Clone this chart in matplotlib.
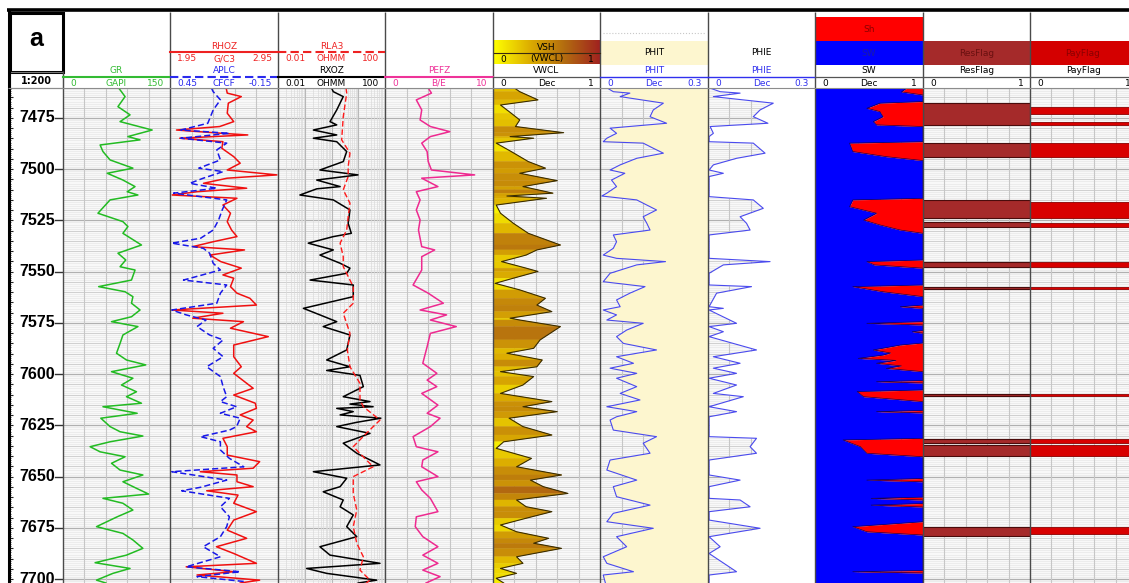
import numpy as np
import matplotlib
matplotlib.use("Agg")
import matplotlib.pyplot as plt
from matplotlib.colors import LinearSegmentedColormap
from matplotlib.collections import PolyCollection
from matplotlib.patches import Rectangle
from matplotlib.ticker import NullLocator

# ---------------- log curves (depth in ft) ----------------
gr_depth = [7460.4, 7461.3, 7464.6, 7469.5, 7473.5, 7476.8, 7480.9, 7484.1, 7485.7, 7488.2,
            7491.4, 7495.5, 7499.5, 7502.0, 7505.3, 7508.5, 7511.0, 7512.6, 7515.0, 7521.5,
            7525.6, 7528.0, 7531.3, 7537.0, 7541.0, 7544.3, 7547.6, 7549.2, 7554.1, 7557.3,
            7559.8, 7562.2, 7565.4, 7568.7, 7572.0, 7574.4, 7576.8, 7580.9, 7585.0, 7589.8,
            7593.1, 7595.5, 7598.8, 7602.0, 7605.3, 7608.6, 7611.0, 7614.2, 7615.9, 7619.1,
            7621.5, 7625.6, 7628.1, 7630.2, 7633.0, 7635.4, 7637.9, 7640.3, 7643.5, 7646.8,
            7649.2, 7652.5, 7655.7, 7658.5, 7660.6, 7663.0, 7666.3, 7669.6, 7674.4, 7677.7,
            7680.9, 7685.0, 7688.3, 7692.0, 7694.8, 7697.2, 7700.5, 7701.9]
gr = [78, 80, 87, 77, 94, 80, 125, 91, 108, 52,
      56, 66, 98, 62, 84, 101, 90, 105, 66, 49,
      84, 91, 84, 110, 77, 88, 80, 101, 96, 50,
      87, 98, 96, 108, 96, 68, 105, 84, 80, 75,
      89, 116, 68, 98, 82, 103, 89, 110, 56, 104,
      53, 66, 80, 112, 66, 38, 52, 87, 68, 80,
      112, 84, 103, 120, 56, 84, 98, 76, 47, 84,
      98, 112, 89, 45, 94, 70, 47, 60]

rhoz_depth = [7460.4, 7462.9, 7464.6, 7467.8, 7472.7, 7476.8, 7479.2, 7480.9, 7482.5, 7483.3,
              7484.9, 7486.6, 7489.8, 7493.9, 7497.1, 7500.4, 7502.8, 7504.4, 7506.9, 7509.3,
              7511.0, 7512.6, 7514.2, 7517.5, 7521.5, 7525.6, 7529.7, 7532.9, 7535.4, 7537.8,
              7539.4, 7541.9, 7545.1, 7548.3, 7551.6, 7553.2, 7557.3, 7560.5, 7563.0, 7566.3,
              7568.7, 7570.3, 7572.7, 7574.4, 7577.6, 7581.7, 7585.8, 7591.5, 7596.4, 7599.6,
              7606.9, 7610.2, 7614.2, 7616.7, 7619.9, 7622.4, 7625.6, 7628.1, 7631.3, 7635.4,
              7639.5, 7642.7, 7645.9, 7647.6, 7649.2, 7652.5, 7654.9, 7656.9, 7659.0, 7663.0,
              7667.1, 7671.2, 7676.1, 7680.1, 7684.2, 7687.5, 7692.3, 7694.0, 7696.4, 7698.0,
              7700.5, 7701.9]
rhoz = [2.47, 2.48, 2.61, 2.49, 2.48, 2.54, 2.41, 2.01, 2.43, 2.67,
        2.04, 2.44, 2.43, 2.54, 2.60, 2.48, 2.94, 2.48, 2.26, 2.66,
        2.20, 1.97, 2.57, 2.44, 2.51, 2.48, 2.52, 2.57, 2.35, 2.16,
        2.64, 2.32, 2.42, 2.61, 2.44, 2.54, 2.51, 2.57, 2.69, 2.75,
        1.97, 2.44, 2.16, 2.63, 2.51, 2.86, 2.54, 2.54, 2.61, 2.54,
        2.72, 2.54, 2.74, 2.75, 2.60, 2.72, 2.66, 2.75, 2.44, 2.48,
        2.48, 2.78, 2.72, 2.23, 2.57, 2.57, 2.72, 2.29, 2.58, 2.54,
        2.75, 2.54, 2.48, 2.66, 2.38, 2.54, 2.75, 2.10, 2.54, 2.20,
        2.78, 2.60]

aplc_depth = [7460.4, 7462.2, 7466.2, 7471.1, 7477.6, 7480.9, 7482.5, 7484.9, 7487.3, 7490.6,
              7495.5, 7499.5, 7501.2, 7504.4, 7506.9, 7509.3, 7511.7, 7513.4, 7515.0, 7519.9,
              7524.8, 7529.7, 7533.7, 7536.1, 7538.6, 7541.0, 7545.9, 7549.2, 7554.1, 7556.5,
              7560.5, 7565.4, 7568.7, 7571.1, 7573.6, 7576.8, 7580.9, 7583.3, 7587.4, 7591.5,
              7596.4, 7601.2, 7606.1, 7611.0, 7613.4, 7615.9, 7619.1, 7621.5, 7625.6, 7627.3,
              7630.5, 7633.0, 7637.0, 7641.1, 7645.2, 7647.6, 7651.7, 7655.2, 7656.9, 7660.6,
              7664.7, 7669.6, 7674.4, 7679.3, 7684.2, 7689.1, 7694.0, 7696.4, 7698.8, 7701.3]
aplc = [0.22, 0.21, 0.17, 0.21, 0.24, 0.39, 0.12, 0.39, 0.135, 0.19,
        0.17, 0.29, 0.155, 0.265, 0.34, 0.19, 0.43, 0.28, 0.135, 0.16,
        0.18, 0.21, 0.28, 0.44, 0.265, 0.23, 0.21, 0.17, 0.375, 0.135,
        0.17, 0.19, 0.44, 0.36, 0.25, 0.30, 0.23, 0.155, 0.21, 0.155,
        0.246, 0.17, 0.155, 0.135, 0.17, 0.08, 0.17, 0.06, 0.08, 0.12,
        0.28, 0.17, 0.17, 0.12, 0.04, 0.44, 0.135, 0.28, 0.385, 0.12,
        0.17, 0.12, 0.135, 0.17, 0.265, 0.17, 0.36, 0.06, 0.30, 0.024]

rxoz_depth = [7460.4, 7462.2, 7464.6, 7471.1, 7476.8, 7478.4, 7480.9, 7483.3, 7484.9, 7486.6,
              7491.4, 7496.3, 7500.4, 7502.8, 7505.3, 7508.5, 7509.6, 7512.6, 7515.0, 7519.9,
              7526.4, 7531.3, 7532.9, 7536.1, 7539.4, 7541.9, 7545.9, 7548.3, 7550.8, 7554.1,
              7556.5, 7562.2, 7567.9, 7571.1, 7574.4, 7576.8, 7580.9, 7588.2, 7593.1, 7596.4,
              7598.2, 7600.6, 7606.1, 7611.0, 7613.4, 7614.6, 7615.9, 7616.7, 7618.3, 7619.9,
              7621.5, 7623.5, 7625.6, 7628.9, 7633.7, 7638.6, 7644.3, 7647.6, 7650.8, 7654.9,
              7657.4, 7661.4, 7664.7, 7668.7, 7674.4, 7679.3, 7684.2, 7688.3, 7692.3, 7694.8,
              7697.2, 7700.5, 7701.9]
rxoz = [1.0, 1.17, 2.75, 1.57, 0.88, 1.57, 0.21, 1.57, 0.21, 1.57,
        3.7, 2.75, 0.37, 9.8, 0.28, 2.1, 0.28, 0.066, 1.17, 4.9,
        4.2, 5.5, 1.17, 0.135, 1.17, 0.37, 2.1, 4.9, 3.7, 0.158,
        6.5, 6.5, 0.089, 0.37, 1.57, 0.49, 4.9, 3.7, 0.66, 4.9,
        0.66, 11.6, 15.5, 2.75, 27.5, 4.9, 36, 1.57, 6.5, 2.1,
        70, 8.8, 1.57, 27.5, 2.75, 8.8, 65, 0.21, 3.7, 2.1,
        0.49, 2.75, 2.1, 6.5, 3.7, 8.8, 0.37, 0.88, 65, 0.118,
        0.66, 49, 10]

rla3_depth = [7460.4, 7462.9, 7474.4, 7485.7, 7492.2, 7498.8, 7503.6, 7510.1, 7516.6, 7523.2,
              7529.7, 7536.1, 7542.7, 7547.6, 7557.3, 7565.4, 7570.3, 7580.1, 7588.2, 7596.4,
              7604.5, 7612.6, 7615.9, 7622.4, 7628.9, 7635.4, 7645.2, 7650.0, 7658.2, 7666.3,
              7674.4, 7682.5, 7689.1, 7695.6, 7700.5, 7701.9]
rla3 = [3.5, 3.7, 2.75, 2.4, 4.9, 4.2, 4.2, 2.75, 4.9, 4.2,
        3.7, 2.1, 2.75, 2.75, 6.5, 6.5, 2.75, 4.9, 3.9, 4.9,
        11.6, 11.6, 15.5, 65, 20, 6.5, 36, 6.5, 6.5, 8.8,
        6.5, 8.8, 15.5, 11.6, 27.5, 20]

pefz_depth = [7460.4, 7462.9, 7466.2, 7471.1, 7476.0, 7479.2, 7481.7, 7484.1, 7487.3, 7491.4,
              7496.3, 7500.4, 7502.8, 7504.4, 7508.5, 7511.0, 7515.0, 7519.9, 7524.8, 7529.7,
              7537.8, 7539.4, 7542.7, 7549.2, 7556.5, 7560.5, 7565.4, 7568.7, 7571.1, 7573.6,
              7576.8, 7580.1, 7586.6, 7594.7, 7599.6, 7602.9, 7606.1, 7609.4, 7615.1, 7619.1,
              7621.5, 7625.6, 7630.5, 7635.4, 7637.9, 7641.9, 7645.2, 7650.0, 7652.5, 7656.5,
              7660.6, 7667.1, 7669.6, 7674.4, 7679.3, 7684.2, 7688.3, 7692.3, 7695.6, 7698.8,
              7701.9]
pefz = [4.0, 4.3, 2.9, 3.4, 3.25, 4.2, 6.0, 4.2, 3.4, 3.9,
        4.0, 4.3, 8.3, 3.4, 4.9, 2.9, 3.25, 2.9, 3.25, 3.1,
        3.4, 4.6, 3.4, 3.4, 2.6, 4.0, 5.4, 3.25, 5.7, 4.2,
        6.6, 4.2, 3.9, 3.5, 4.8, 3.9, 4.8, 3.4, 4.9, 3.9,
        5.1, 4.2, 2.6, 2.9, 4.9, 3.5, 3.4, 4.9, 2.9, 3.4,
        4.2, 4.9, 2.9, 2.8, 3.5, 4.9, 3.5, 4.9, 3.5, 5.1,
        3.8]

vwcl_depth = [7460.4, 7462.2, 7466.2, 7468.7, 7472.7, 7476.0, 7479.2, 7482.2, 7484.1, 7484.9,
              7487.3, 7491.4, 7496.3, 7499.5, 7502.0, 7505.6, 7508.5, 7510.1, 7511.7, 7513.1,
              7514.2, 7517.5, 7521.5, 7526.4, 7531.3, 7537.0, 7539.4, 7541.9, 7545.1, 7548.3,
              7549.9, 7553.2, 7555.7, 7558.9, 7563.0, 7566.3, 7569.5, 7572.7, 7573.6, 7576.8,
              7583.3, 7587.4, 7589.8, 7593.1, 7596.4, 7598.8, 7601.2, 7605.3, 7609.4, 7613.4,
              7615.9, 7618.3, 7621.5, 7625.6, 7629.7, 7633.0, 7636.2, 7641.1, 7645.2, 7649.2,
              7651.7, 7654.9, 7658.2, 7661.4, 7664.7, 7667.1, 7670.3, 7673.6, 7676.9, 7680.1,
              7682.5, 7685.0, 7689.1, 7692.3, 7694.8, 7697.2, 7699.6, 7701.9]
vwcl = [0.20, 0.25, 0.42, 0.07, 0.17, 0.25, 0.21, 0.66, 0.16, 0.38,
        0.03, 0.17, 0.33, 0.49, 0.25, 0.60, 0.28, 0.42, 0.56, 0.13,
        0.50, 0.03, 0.07, 0.19, 0.33, 0.63, 0.41, 0.31, 0.08, 0.31,
        0.42, 0.19, 0.02, 0.25, 0.49, 0.41, 0.55, 0.16, 0.25, 0.63,
        0.44, 0.38, 0.13, 0.46, 0.41, 0.07, 0.38, 0.28, 0.07, 0.55,
        0.28, 0.60, 0.15, 0.28, 0.55, 0.10, 0.03, 0.36, 0.22, 0.64,
        0.35, 0.47, 0.70, 0.22, 0.31, 0.55, 0.31, 0.07, 0.22, 0.52,
        0.38, 0.64, 0.22, 0.28, 0.07, 0.22, 0.03, 0.10]

phit_depth = [7460.4, 7462.2, 7462.9, 7464.6, 7467.8, 7471.1, 7474.4, 7477.6, 7480.0, 7482.5,
              7484.9, 7486.6, 7487.3, 7489.8, 7492.2, 7494.7, 7497.9, 7500.4, 7502.0, 7505.3,
              7508.5, 7511.7, 7513.1, 7515.0, 7517.5, 7519.9, 7523.2, 7526.4, 7529.7, 7532.1,
              7535.4, 7538.6, 7541.9, 7543.5, 7545.1, 7546.7, 7550.8, 7554.9, 7557.3, 7560.5,
              7563.8, 7567.1, 7568.7, 7571.1, 7573.6, 7575.2, 7578.5, 7581.7, 7585.0, 7588.2,
              7591.5, 7594.7, 7597.1, 7599.6, 7602.0, 7606.1, 7609.4, 7612.6, 7615.9, 7618.3,
              7620.8, 7622.4, 7627.3, 7630.5, 7633.7, 7638.6, 7641.9, 7646.8, 7651.7, 7654.9,
              7659.8, 7663.9, 7667.9, 7672.0, 7675.2, 7679.3, 7684.2, 7689.1, 7692.3, 7696.4,
              7698.0, 7701.9]
phit = [0.020, 0.037, 0.083, 0.056, 0.176, 0.148, 0.139, 0.185, 0.028, 0.046,
        0.019, 0.009, 0.120, 0.148, 0.176, 0.102, 0.056, 0.028, 0.069, 0.032,
        0.046, 0.019, 0.005, 0.102, 0.130, 0.157, 0.120, 0.130, 0.139, 0.037,
        0.046, 0.037, 0.009, 0.046, 0.182, 0.102, 0.028, 0.009, 0.125, 0.083,
        0.046, 0.056, 0.009, 0.046, 0.019, 0.120, 0.074, 0.046, 0.065, 0.157,
        0.046, 0.093, 0.028, 0.102, 0.046, 0.102, 0.056, 0.111, 0.019, 0.102,
        0.046, 0.028, 0.037, 0.157, 0.120, 0.139, 0.028, 0.019, 0.102, 0.037,
        0.046, 0.139, 0.037, 0.019, 0.148, 0.046, 0.074, 0.009, 0.019, 0.093,
        0.009, 0.015]

phie_depth = [7460.4, 7462.2, 7462.9, 7464.6, 7467.8, 7471.1, 7474.4, 7477.6, 7479.2, 7482.5,
              7484.1, 7486.6, 7487.3, 7492.2, 7494.7, 7497.9, 7500.4, 7502.0, 7503.6, 7513.4,
              7515.0, 7519.1, 7523.2, 7526.4, 7529.7, 7532.1, 7543.5, 7545.1, 7546.7, 7550.8,
              7556.5, 7557.3, 7560.5, 7567.1, 7567.9, 7568.7, 7575.2, 7576.8, 7579.3, 7581.7,
              7588.2, 7591.5, 7594.7, 7597.1, 7599.6, 7602.0, 7605.3, 7609.4, 7611.0, 7615.9,
              7618.3, 7620.8, 7630.5, 7631.3, 7635.4, 7638.6, 7641.9, 7649.2, 7651.7, 7654.9,
              7660.6, 7661.4, 7664.7, 7667.1, 7671.2, 7675.2, 7679.3, 7684.2, 7687.5, 7696.4,
              7698.0, 7701.9]
phie = [0.005, 0.034, 0.090, 0.015, 0.183, 0.146, 0.127, 0.168, 0.006, 0.015,
        0.003, 0.003, 0.127, 0.160, 0.080, 0.015, 0.003, 0.043, 0.003, 0.003,
        0.127, 0.155, 0.090, 0.108, 0.118, 0.003, 0.003, 0.174, 0.043, 0.003,
        0.003, 0.122, 0.024, 0.003, 0.043, 0.003, 0.080, 0.003, 0.043, 0.003,
        0.136, 0.015, 0.090, 0.015, 0.080, 0.003, 0.080, 0.015, 0.099, 0.003,
        0.080, 0.003, 0.003, 0.136, 0.118, 0.136, 0.003, 0.003, 0.090, 0.003,
        0.003, 0.090, 0.118, 0.003, 0.003, 0.146, 0.003, 0.034, 0.003, 0.080,
        0.003, 0.003]

sw_depth = [7460.4, 7462.3, 7463.8, 7467.0, 7467.8, 7470.3, 7471.9, 7474.4, 7476.8, 7478.4,
            7479.2, 7486.6, 7487.3, 7491.4, 7493.9, 7495.8, 7514.2, 7515.0, 7518.3, 7521.5,
            7524.8, 7527.2, 7529.7, 7531.3, 7544.3, 7545.1, 7546.7, 7548.3, 7556.5, 7557.3,
            7559.8, 7562.2, 7566.3, 7567.1, 7567.9, 7574.4, 7575.2, 7576.0, 7578.7, 7579.3,
            7580.0, 7584.8, 7585.8, 7588.2, 7589.7, 7590.7, 7592.3, 7593.3, 7594.7, 7596.0,
            7597.2, 7598.8, 7603.1, 7603.7, 7604.3, 7607.7, 7608.5, 7611.0, 7613.4, 7617.7,
            7618.3, 7618.9, 7631.3, 7632.1, 7635.4, 7638.6, 7640.3, 7650.9, 7651.7, 7652.5,
            7660.0, 7660.6, 7661.4, 7663.1, 7663.9, 7664.8, 7672.0, 7674.4, 7676.9, 7678.5,
            7695.8, 7696.4, 7697.0, 7701.9]
sw = [0.85, 0.80, 1.0, 1.0, 0.60, 0.48, 0.60, 0.63, 0.54, 0.57,
      1.0, 1.0, 0.32, 0.35, 0.66, 1.0, 1.0, 0.35, 0.32, 0.57,
      0.45, 0.60, 0.79, 1.0, 1.0, 0.48, 0.55, 1.0, 1.0, 0.35,
      0.63, 1.0, 1.0, 0.79, 1.0, 1.0, 0.48, 1.0, 1.0, 0.90,
      1.0, 1.0, 0.79, 0.54, 0.70, 0.63, 0.40, 0.75, 0.57, 0.80,
      0.66, 1.0, 1.0, 0.57, 1.0, 1.0, 0.39, 0.45, 1.0, 1.0,
      0.57, 1.0, 1.0, 0.26, 0.42, 0.48, 1.0, 1.0, 0.48, 1.0,
      1.0, 0.52, 1.0, 1.0, 0.52, 1.0, 1.0, 0.35, 0.48, 1.0,
      1.0, 0.35, 1.0, 1.0]

res_top = [7467.8, 7487.3, 7515.0, 7525.6, 7545.1, 7557.3, 7609.7, 7631.8, 7634.6, 7674.4]
res_base = [7478.4, 7493.9, 7524.0, 7528.0, 7547.6, 7558.6, 7610.7, 7633.8, 7640.0, 7679.0]
pay_top = [7469.5, 7476.8, 7487.3, 7515.8, 7526.4, 7545.1, 7557.6, 7609.9, 7631.8, 7634.6, 7674.4]
pay_base = [7473.0, 7478.4, 7493.9, 7524.0, 7528.3, 7547.6, 7558.6, 7610.7, 7633.8, 7640.0, 7678.0]

depth_labels = [7475, 7500, 7525, 7550, 7575, 7600, 7625, 7650, 7675, 7700]

# ---------------- layout (pixels) ----------------
W, H = 1129, 583
HDR = 88
TOP, BASE = 7460.4, 7701.9
EDGES = [63, 170, 278, 385, 493, 600, 708, 815, 923, 1030, 1137]
FS = 6.5

plt.rcParams['font.family'] = ['DejaVu Sans']
fig = plt.figure(figsize=(W / 100, H / 100), dpi=100)

vsh_cmap = LinearSegmentedColormap.from_list('vsh', ['#ffff00', '#dcae00', '#b26a10', '#a02020'])


def grid(ax, lo, hi, log=False):
    ty = ax.get_yaxis_transform()
    ft = np.arange(7461, 7702)
    ax.hlines(ft, 0, 1, transform=ty, colors='#e8e8e8', lw=0.5, zorder=0.2)
    ax.hlines(ft[ft % 5 == 0], 0, 1, transform=ty, colors='#d0d0d0', lw=0.7, zorder=0.3)
    ax.hlines(ft[ft % 25 == 0], 0, 1, transform=ty, colors='#b0b0b0', lw=0.9, zorder=0.3)
    tx = ax.get_xaxis_transform()
    if log:
        minor = [m * 10.0 ** e for e in range(-2, 2) for m in range(2, 10)]
        ax.vlines(minor, 0, 1, transform=tx, colors='#dadada', lw=0.5, zorder=0.3)
        ax.vlines([0.1, 1, 10], 0, 1, transform=tx, colors='#b8b8b8', lw=0.8, zorder=0.3)
    else:
        ax.vlines(np.linspace(lo, hi, 6)[1:-1], 0, 1, transform=tx, colors='#c6c6c6', lw=0.8, zorder=0.3)


def track(i, lo, hi, log=False):
    x0, x1 = EDGES[i], EDGES[i + 1]
    ax = fig.add_axes([x0 / W, 0, (x1 - x0) / W, (H - HDR) / H])
    ax.set_facecolor('#f8f8f8')
    if log:
        ax.set_xscale('log')
    ax.set_xlim(lo, hi)
    ax.set_ylim(BASE, TOP)
    ax.set_xticks([])
    ax.set_yticks([])
    ax.xaxis.set_minor_locator(NullLocator())
    for s in ax.spines.values():
        s.set_visible(False)
    grid(ax, lo, hi, log)
    return ax


# depth track
dax = fig.add_axes([8 / W, 0, 55 / W, (H - HDR) / H])
dax.set_xlim(0, 55)
dax.set_ylim(BASE, TOP)
dax.set_axis_off()
ft = np.arange(7461, 7702)
dax.hlines(ft, 0, 3, colors='#333333', lw=0.6)
dax.hlines(ft[ft % 5 == 0], 0, 5, colors='#222222', lw=0.8)
for d in depth_labels:
    dax.text(47, d, str(d), ha='right', va='center', fontsize=11.5, fontweight='bold',
             family=['Liberation Sans', 'DejaVu Sans'], clip_on=False)
    dax.plot([47, 55], [d, d], color='#333333', lw=1.0)

# GR
ax = track(0, 0, 150)
ax.plot(gr, gr_depth, color='#22bb22', lw=1.1, zorder=3)

# RHOZ / APLC
ax = track(1, 1.95, 2.95)
ax.plot(rhoz, rhoz_depth, color='#f01010', lw=1.1, zorder=3)
ax2 = ax.twiny()
ax2.set_xlim(0.45, -0.15)
ax2.set_axis_off()
ax2.plot(aplc, aplc_depth, color='#1818e8', lw=1.1, ls=(0, (4, 2)), zorder=2)

# RLA3 / RXOZ
ax = track(2, 0.01, 100, log=True)
ax.plot(rla3, rla3_depth, color='#ff1a1a', lw=1.0, ls=(0, (4, 2)), zorder=3)
ax.plot(rxoz, rxoz_depth, color='black', lw=1.1, zorder=2)

# PEFZ
ax = track(3, 0, 10)
ax.plot(pefz, pefz_depth, color='#ee2a90', lw=1.1, zorder=3)

# VWCL with value-coloured shading
ax = track(4, 0, 1)
polys, cols = [], []
for k in range(len(vwcl) - 1):
    d0, d1 = vwcl_depth[k], vwcl_depth[k + 1]
    v0, v1 = vwcl[k], vwcl[k + 1]
    polys.append([(0, d0), (v0, d0), (v1, d1), (0, d1)])
    cols.append(vsh_cmap(0.5 * (v0 + v1) * 1.15))
ax.add_collection(PolyCollection(polys, facecolors=cols, edgecolors=cols, linewidths=0.3, zorder=1))
ax.plot(vwcl, vwcl_depth, color='#3a2c00', lw=0.8, zorder=3)

# PHIT
ax = track(5, 0, 0.3)
ax.fill_betweenx(phit_depth, phit, 0.3, color='#fdf6cf', lw=0, zorder=1)
ax.plot(phit, phit_depth, color='#4a4aee', lw=0.8, zorder=3)

# PHIE
ax = track(6, 0, 0.3)
ax.fill_betweenx(phie_depth, phie, 0.3, color='white', lw=0, zorder=1)
ax.plot(phie, phie_depth, color='#4a4aee', lw=0.8, zorder=3)

# SW / Sh
ax = track(7, 0, 1)
ax.fill_betweenx(sw_depth, 0, sw, color='#0000ff', lw=0, zorder=1)
ax.fill_betweenx(sw_depth, sw, 1, color='#ff0000', lw=0, zorder=1)
ax.plot(sw, sw_depth, color='#1a0050', lw=0.5, zorder=3)

# flags
ax = track(8, 0, 1)
for t, b in zip(res_top, res_base):
    ax.fill_betweenx([t, b], 0, 1, facecolor='#a52a2a', edgecolor='#4a0c0c', lw=0.8, zorder=2)
ax = track(9, 0, 1)
for t, b in zip(pay_top, pay_base):
    ax.fill_betweenx([t, b], 0, 1, facecolor='#d80000', edgecolor='#8a0000', lw=0.6, zorder=2)

# ---------------- header ----------------
ov = fig.add_axes([0, 0, 1, 1], zorder=5)
ov.set_axis_off()
ov.set_autoscale_on(False)
ov.set_xlim(0, W)
ov.set_ylim(H, 0)

ov.vlines(EDGES[1:10], 12, H, colors='#4a4a4a', lw=1.0)
ov.vlines([63], 71, H, colors='#4a4a4a', lw=1.0)
ov.vlines([8.5], 10, H, colors='black', lw=2.2)
ov.hlines(10, 7, W, colors='black', lw=2.6)
ov.hlines(HDR, 8, W, colors='#8c8c8c', lw=0.8)
ov.add_patch(Rectangle((9.5, 12.5), 53, 59, fill=False, ec='black', lw=2.2))
ov.add_patch(Rectangle((9.5, 72), 53.5, 16, fill=False, ec='#777777', lw=0.8))
ov.text(36, 39, 'a', ha='center', va='center', fontsize=18, fontweight='bold',
        family=['Liberation Sans', 'DejaVu Sans'])
ov.text(36, 80.5, '1:200', ha='center', va='center', fontsize=7, fontweight='bold')


def head(i, name, y_name, y_line, color, left, unit, right, ls='-', line_color=None, lw=1.5):
    x0, x1 = EDGES[i], EDGES[i + 1]
    xc = (x0 + min(x1, W + 8)) / 2
    ov.text(xc, y_name, name, color=color, ha='center', va='center', fontsize=FS)
    ov.plot([x0, x1], [y_line, y_line], color=line_color or color, lw=lw, ls=ls)
    ys = y_line + 6.2
    ov.text(x0 + 7, ys, left, color=color, ha='left', va='center', fontsize=FS)
    ov.text(xc, ys, unit, color=color, ha='center', va='center', fontsize=FS)
    ov.text(x1 - 6, ys, right, color=color, ha='right', va='center', fontsize=FS)


head(0, 'GR', 70.3, 76.8, '#33bb33', '0', 'GAPI', '150')
head(1, 'RHOZ', 46.5, 52.3, '#ee2222', '1.95', 'G/C3', '2.95')
head(1, 'APLC', 70.3, 76.8, '#2a2aee', '0.45', 'CFCF', '-0.15', ls=(0, (4, 2)))
head(2, 'RLA3', 46.5, 52.3, '#ee2222', '0.01', 'OHMM', '100', ls=(0, (4, 2)))
head(2, 'RXOZ', 70.3, 76.8, 'black', '0.01', 'OHMM', '100')
head(3, 'PEFZ', 70.3, 76.8, '#ee3399', '0', 'B/E', '10')
head(4, 'VWCL', 70.3, 76.8, 'black', '0', 'Dec', '1', line_color='#555555', lw=0.9)
head(5, 'PHIT', 70.3, 76.8, '#3030ee', '0', 'Dec', '0.3', lw=1.0)
head(6, 'PHIE', 70.3, 76.8, '#3030ee', '0', 'Dec', '0.3', lw=1.0)
head(7, 'SW', 70.3, 76.8, 'black', '0', 'Dec', '1', line_color='#555555', lw=0.9)
head(8, 'ResFlag', 70.3, 76.8, 'black', '0', '', '1', line_color='#555555', lw=0.9)
head(9, 'PayFlag', 70.3, 76.8, 'black', '0', '', '1', line_color='#555555', lw=0.9)

# VSH colour bar
ov.imshow(np.linspace(0, 1, 256)[None, :], extent=(493.5, 600, 64.5, 41), cmap=vsh_cmap,
          aspect='auto', zorder=1)
ov.plot([493.5, 600], [53.3, 53.3], color='#3a2a10', lw=0.8)
ov.text(546.5, 47, 'VSH', ha='center', va='center', fontsize=FS)
ov.text(500, 59, '0', ha='left', va='center', fontsize=FS)
ov.text(546.5, 59, '(VWCL)', ha='center', va='center', fontsize=FS)
ov.text(594, 59, '1', ha='right', va='center', fontsize=FS)

# PHIT / PHIE titles
ov.add_patch(Rectangle((600.5, 41), 107, 23.5, color='#fdf6cf', lw=0))
ov.plot([603, 705], [33.3, 33.3], color='#c8c8c8', lw=0.8, ls=':')
ov.text(654, 52.5, 'PHIT', ha='center', va='center', fontsize=FS)
ov.text(761.5, 52.5, 'PHIE', ha='center', va='center', fontsize=FS)

# SW / Sh and flag boxes
ov.add_patch(Rectangle((815.5, 16.5), 107, 24.5, color='#ff0000', lw=0))
ov.add_patch(Rectangle((815.5, 41), 107, 24, color='#0000ff', lw=0))
ov.text(869, 29, 'Sh', ha='center', va='center', fontsize=FS, color='#8a0000')
ov.text(869, 53, 'SW', ha='center', va='center', fontsize=FS, color='#1a1aa8')
ov.add_patch(Rectangle((923.5, 41), 106, 24, color='#a52a2a', lw=0))
ov.text(976.5, 53, 'ResFlag', ha='center', va='center', fontsize=FS, color='#6a1010')
ov.add_patch(Rectangle((1030.5, 41), 110, 24, color='#d40000', lw=0))
ov.text(1083, 53, 'PayFlag', ha='center', va='center', fontsize=FS, color='#8a0000')

fig.savefig('out.png', dpi=100)
